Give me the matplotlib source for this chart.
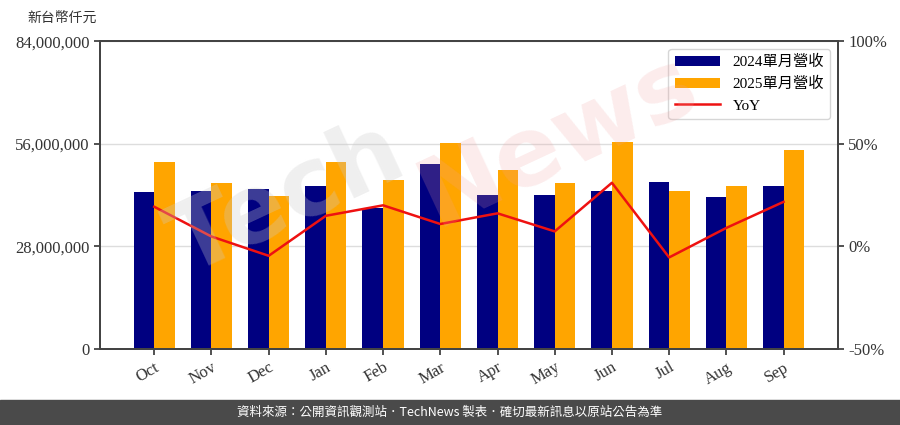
import numpy as np
import matplotlib.pyplot as plt
from matplotlib.ticker import FuncFormatter

plt.rcParams['font.family'] = ['Liberation Serif', 'Noto Sans CJK TC', 'DejaVu Sans']

months = ["Oct", "Nov", "Dec", "Jan", "Feb", "Mar", "Apr", "May", "Jun", "Jul", "Aug", "Sep"]
rev_2024 = [42.8, 43.0, 43.6, 44.4, 38.4, 50.5, 42.0, 42.0, 43.0, 45.5, 41.5, 44.6]  # 百萬
rev_2025 = [51.1, 45.2, 41.7, 51.1, 46.1, 56.1, 48.8, 45.2, 56.4, 43.1, 44.5, 54.3]
yoy = [19.3, 4.8, -4.6, 14.9, 20.0, 10.9, 16.1, 7.3, 31.0, -5.4, 9.0, 21.7]

x = np.arange(len(months))
w = 0.36

fig = plt.figure(figsize=(9, 4.25), dpi=100)
ax = fig.add_axes([0.111, 0.179, 0.82, 0.724])
ax2 = ax.twinx()

b1 = ax.bar(x - w / 2, np.array(rev_2024) * 1e6, w, color="#000080", label="2024單月營收", zorder=2)
b2 = ax.bar(x + w / 2, np.array(rev_2025) * 1e6, w, color="#FFA500", label="2025單月營收", zorder=2)
l1, = ax2.plot(x, yoy, color="#EE1111", lw=1.8, label="YoY")

ax.set_xlim(-0.95, 11.95)
ax.set_ylim(0, 84e6)
ax.set_yticks([0, 28e6, 56e6, 84e6])
ax.yaxis.set_major_formatter(FuncFormatter(lambda v, p: f"{int(v):,}"))
ax.grid(axis="y", color="#dddddd", lw=1, zorder=0)
ax.set_axisbelow(True)
ax.set_xticks(x)
ax.set_xticklabels(months, rotation=30, ha="right", rotation_mode="anchor")

ax2.set_ylim(-50, 100)
ax2.set_yticks([-50, 0, 50, 100])
ax2.yaxis.set_major_formatter(FuncFormatter(lambda v, p: f"{int(v)}%"))

for a in (ax, ax2):
    for s in a.spines.values():
        s.set_color("#444444")
        s.set_linewidth(1.4)
    a.tick_params(labelsize=12, colors="#333333", length=4, width=1.2)

ax.text(-0.051, 1.076, "新台幣仟元", transform=ax.transAxes, ha="center", va="center",
        fontsize=10, color="#333333")

ax.legend([b1, b2, l1], ["2024單月營收", "2025單月營收", "YoY"], loc="upper right",
          fontsize=11, frameon=True, edgecolor="#cccccc", handlelength=3)

# watermark
fig.text(0.32, 0.53, "Tech", fontsize=70, color="#cccccc", alpha=0.3, rotation=25,
         ha="center", va="center", fontweight="bold", family="DejaVu Sans")
fig.text(0.62, 0.67, "News", fontsize=70, color="#f0a0a0", alpha=0.2, rotation=25,
         ha="center", va="center", fontweight="bold", family="DejaVu Sans")

# footer
fig.patches.append(plt.Rectangle((0, 0), 1, 25 / 425, transform=fig.transFigure,
                                 color="#4a4a4a", zorder=0))
fig.text(0.5, 12.5 / 425, "資料來源：公開資訊觀測站．TechNews 製表．確切最新訊息以原站公告為準",
         ha="center", va="center", fontsize=9, color="white", family=["Noto Sans CJK TC"])

fig.savefig("out.png", dpi=100)
